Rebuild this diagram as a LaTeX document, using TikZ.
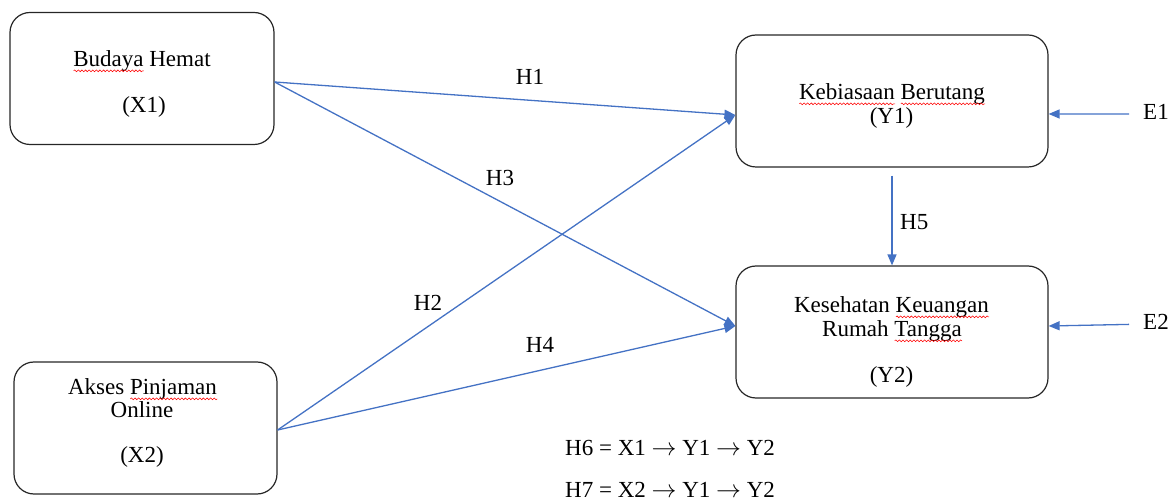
\documentclass[tikz,border=0pt]{standalone}
\usepackage{fontspec}
\setmainfont{Liberation Serif}
\usetikzlibrary{arrows.meta,calc,decorations.pathmorphing}

\definecolor{linkblue}{HTML}{4472C4}

% red wavy underline used for flagged words
\newlength\squigwd
\newcommand\spellmark[1]{%
  \settowidth\squigwd{#1}%
  \rlap{#1}%
  \rlap{\raisebox{-5pt}{\tikz[x=1pt,y=1pt]\draw[red, line width=0.55pt,
      decorate, decoration={snake, amplitude=0.9pt, segment length=3.6pt}]
      (0,0) -- (\the\squigwd,0);}}%
  \kern\squigwd\relax}

\newcommand\pathto{$\rightarrow$}

\tikzset{
  varbox/.style={draw=black!85, line width=1.2pt, rounded corners=20pt,
    inner sep=0pt, anchor=center},
  txt/.style={font=\fontsize{23}{27}\selectfont, inner sep=0pt, anchor=base},
  link/.style={draw=linkblue, line width=1.3pt,
    -{Triangle[length=11pt,width=9pt]}},
}

\begin{document}
\begin{tikzpicture}[x=1pt,y=-1pt]
\useasboundingbox (0,0) rectangle (1168,502);

% variable boxes
\node[varbox, minimum width=264pt, minimum height=132pt] (X1) at (142,78.5) {};
\node[varbox, minimum width=263pt, minimum height=132pt] (X2) at (145.5,428) {};
\node[varbox, minimum width=312pt, minimum height=132pt] (Y1) at (892,101) {};
\node[varbox, minimum width=312pt, minimum height=132pt] (Y2) at (892,332) {};

% box captions
\node[txt] (x1a) at (142,67) {\spellmark{Budaya} Hemat};
\node[txt] (x1b) at (144,113) {(X1)};
\node[txt] (x2a) at (142.5,395) {Akses \spellmark{Pinjaman}};
\node[txt] (x2b) at (142,418) {Online};
\node[txt] (x2c) at (142,463) {(X2)};
\node[txt] (y1a) at (892,100) {\spellmark{Kebiasaan} \spellmark{Berutang}};
\node[txt] (y1b) at (891.5,124) {(Y1)};
\node[txt] (y2a) at (891.5,313) {Kesehatan \spellmark{Keuangan}};
\node[txt] (y2b) at (892,337) {Rumah \spellmark{Tangga}};
\node[txt] (y2c) at (891.5,383) {(Y2)};

% error terms
\node[txt, anchor=base west] (E1) at (1143,120) {E1};
\node[txt, anchor=base west] (E2) at (1143,330) {E2};

% path labels
\node[txt] (h1) at (530,85) {H1};
\node[txt] (h3) at (500,186) {H3};
\node[txt] (h2) at (428,311) {H2};
\node[txt] (h4) at (540,353) {H4};
\node[txt, anchor=base west] (h5) at (900,230) {H5};

% mediation paths
\node[txt, anchor=base west] (h6) at (565,456) {H6 = X1 \pathto{} Y1 \pathto{} Y2};
\node[txt, anchor=base west] (h7) at (565,497) {H7 = X2 \pathto{} Y1 \pathto{} Y2};

% connectors
\coordinate (x1out) at ([yshift=-3.5pt]X1.east);
\coordinate (x2out) at ([yshift=-2pt]X2.east);
\coordinate (y1in) at ([yshift=-14pt]Y1.west);
\coordinate (y2in) at ([yshift=6pt]Y2.west);

\draw[link] (x1out) -- (y1in);
\draw[link] (x1out) -- (y2in);
\draw[link] (x2out) -- (y1in);
\draw[link] (x2out) -- (y2in);
\draw[link] ([yshift=-8pt]Y1.south) -- (Y2.north);
\draw[link] ([xshift=-14pt,yshift=-1.5pt]E1.west) -- ([yshift=-13pt]Y1.east);
\draw[link] ([xshift=-14pt,yshift=-2pt]E2.west) -- ([yshift=6pt]Y2.east);
\end{tikzpicture}
\end{document}
